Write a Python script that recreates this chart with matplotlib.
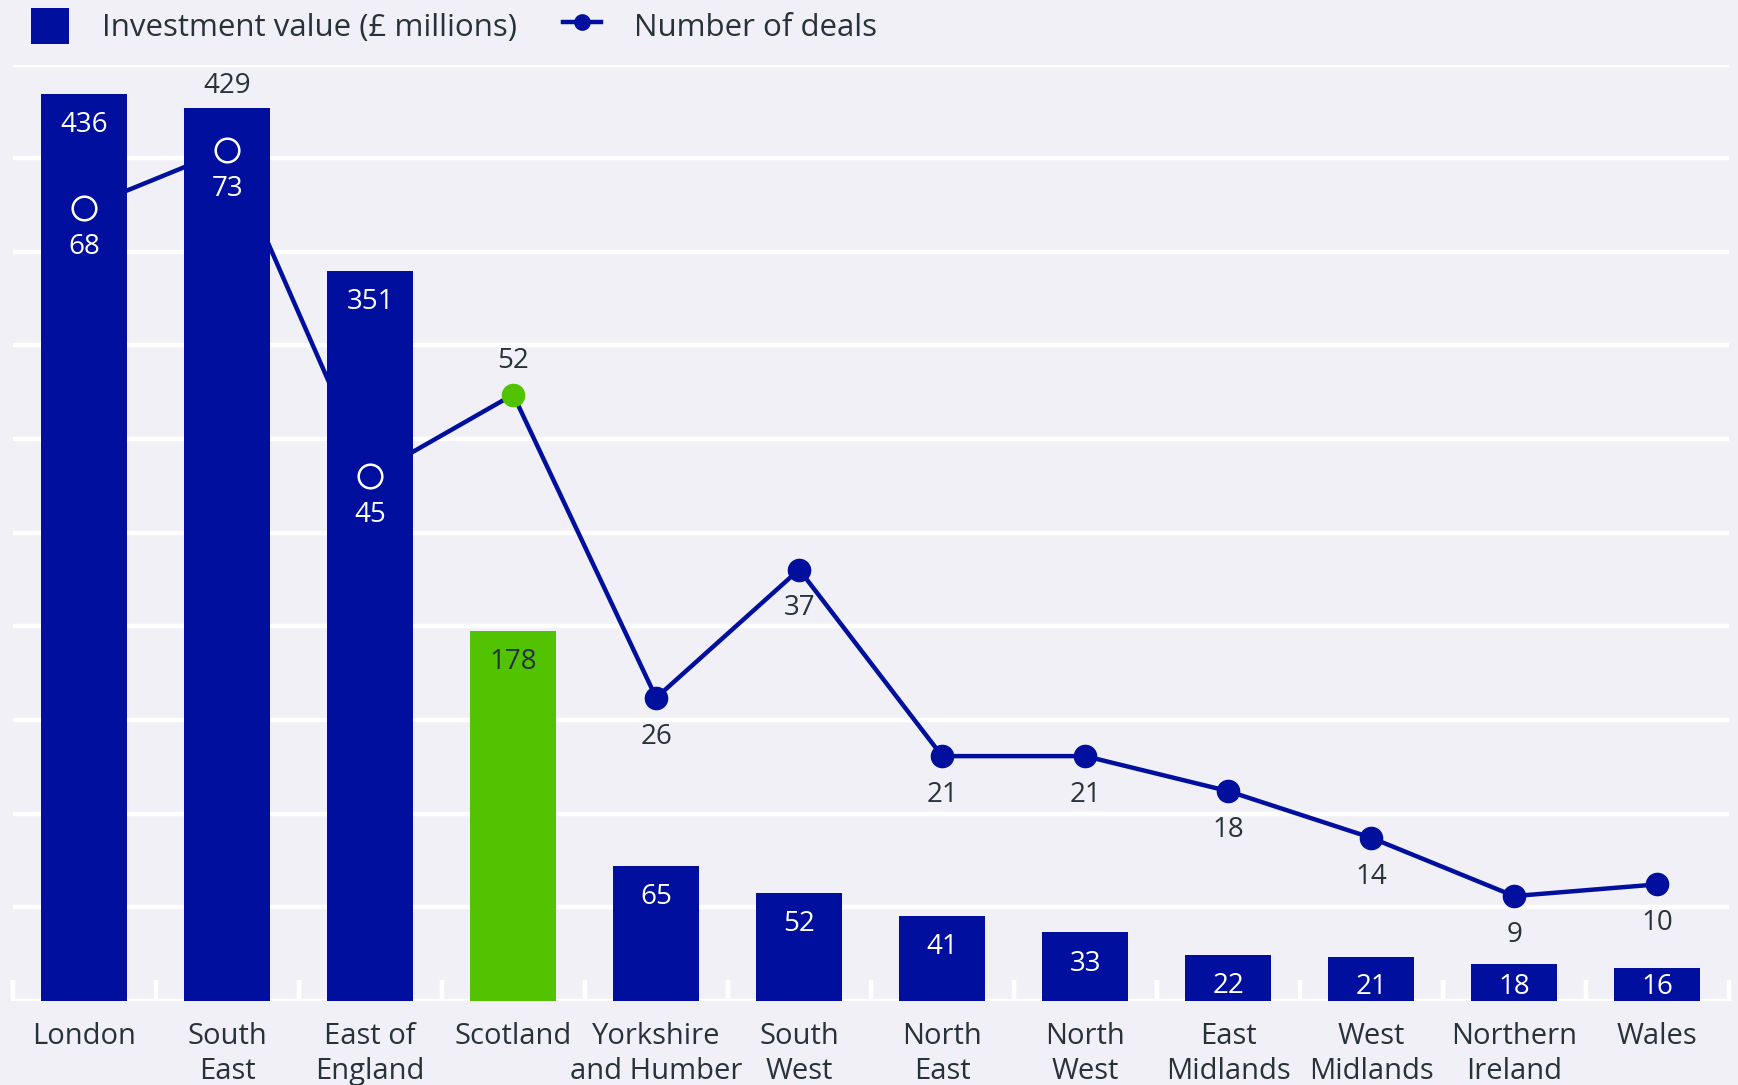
import numpy as np
import matplotlib.pyplot as plt
from matplotlib.patches import Patch
from matplotlib.lines import Line2D

# *****************************************************************************

REGIONS = ['London', 'South\nEast', 'East of\nEngland', 'Scotland',
           'Yorkshire\nand Humber', 'South\nWest', 'North\nEast',
           'North\nWest', 'East\nMidlands', 'West\nMidlands',
           'Northern\nIreland', 'Wales']
INVEST = [436, 429, 351, 178, 65, 52, 41, 33, 22, 21, 18, 16]
DEALS = [68, 73, 45, 52, 26, 37, 21, 21, 18, 14, 9, 10]
HIGHLIGHT = 'Scotland'

# *****************************************************************************

BG = '#f0f0f6'
BLUE = '#000f9e'
GREEN = '#52c300'
TXT = '#27323b'

plt.rcParams['font.family'] = ['Open Sans', 'DejaVu Sans']


def make_fig():

    fig = plt.figure(figsize=(17.38, 10.85), dpi=100, facecolor=BG)
    ax = fig.add_axes([0.0073, 0.0774, 0.9873, 0.8631])
    axl = ax.twinx()
    ax.set_zorder(axl.get_zorder() + 1)
    ax.patch.set_visible(False)
    axl.patch.set_visible(False)

    xpos = np.arange(len(REGIONS))
    inv = np.array(INVEST, dtype=float)
    dls = np.array(DEALS, dtype=float)
    hidx = REGIONS.index(HIGHLIGHT)

    ymax1 = 450
    ymax2 = 80.3
    ax.set_xlim(-0.5, len(REGIONS) - 0.5)
    ax.set_ylim(0, ymax1)
    axl.set_ylim(0, ymax2)
    axl.set_yticks([])
    for spn in list(ax.spines.values()) + list(axl.spines.values()):
        spn.set_visible(False)

    # grid
    ax.set_yticks(np.arange(0, ymax1 + 1, 45))
    ax.yaxis.grid(True, color='white', lw=3.2)
    ax.set_axisbelow(True)
    ax.tick_params(axis='y', length=0, labelleft=False)

    # x ticks: labels at centres, white separators between
    ax.set_xticks(xpos)
    ax.set_xticklabels(REGIONS, fontsize=21, color=TXT, linespacing=1.3)
    ax.tick_params(axis='x', which='major', length=0, pad=15)
    ax.set_xticks(np.arange(-0.5, len(REGIONS)), minor=True)
    ax.tick_params(axis='x', which='minor', direction='in', length=15,
                   width=3.2, color='white')

    # bars
    cols = [GREEN if i == hidx else BLUE for i in xpos]
    ax.bar(xpos, inv, width=0.6, color=cols, zorder=1)

    # deals line, drawn under bars but over grid
    ltr = axl.transData
    ax.plot(xpos, dls, color=BLUE, lw=3.2, zorder=0.8, transform=ltr)

    # deals in bar units, to tell which markers sit inside a bar
    dls_in_bar = dls*ymax1/ymax2
    inside = dls_in_bar < inv

    for i in xpos:
        if inside[i]:
            ax.plot(i, dls[i], 'o', ms=17, mfc='none', mec='white', mew=1.8,
                    zorder=3, transform=ltr)
            ax.annotate(str(DEALS[i]), (i, dls[i]), xycoords=ltr,
                        xytext=(0, -28), textcoords='offset points',
                        ha='center', va='center', fontsize=20,
                        color='white', zorder=4)
        else:
            mcol = GREEN if i == hidx else BLUE
            ax.plot(i, dls[i], 'o', ms=16, color=mcol, mec=mcol,
                    zorder=3, transform=ltr)
            dy = 24 if i == hidx else -28
            ax.annotate(str(DEALS[i]), (i, dls[i]), xycoords=ltr,
                        xytext=(0, dy), textcoords='offset points',
                        ha='center', va='center', fontsize=20,
                        color=TXT, zorder=4)

    # bar value labels
    for i in xpos:
        if inside[i] and inv[i] - dls_in_bar[i] < 40:
            ax.annotate(str(INVEST[i]), (i, inv[i]), xytext=(0, 16),
                        textcoords='offset points', ha='center',
                        va='center', fontsize=20, color=TXT, zorder=4)
            continue
        ypos = max(inv[i] - 15, 6.9)
        tcol = TXT if i == hidx else 'white'
        ax.text(i, ypos, str(INVEST[i]), ha='center', va='center',
                fontsize=20, color=tcol, zorder=4)

    # legend
    hnds = [Patch(facecolor=BLUE, edgecolor='none'),
            Line2D([], [], color=BLUE, lw=3.2, marker='o', ms=11)]
    labs = ['Investment value (£ millions)', 'Number of deals']
    fig.legend(hnds, labs, loc='upper left', bbox_to_anchor=(0.018, 0.993),
               ncol=2, frameon=False, fontsize=22.5, labelcolor=TXT,
               handlelength=1.2, handleheight=1.4, handletextpad=1.05,
               columnspacing=1.5, borderpad=0, borderaxespad=0)

    plt.savefig('out.png', dpi=100, facecolor=BG)
    plt.close()

    return None

# *****************************************************************************


if (__name__ == "__main__"):

    make_fig()

# *****************************************************************************
